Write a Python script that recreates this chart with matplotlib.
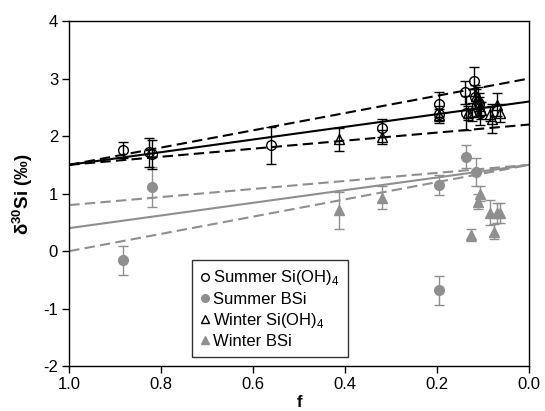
import numpy as np
import matplotlib
matplotlib.use("Agg")
import matplotlib.pyplot as plt

plt.rcParams['font.family'] = ['Liberation Sans', 'DejaVu Sans']
plt.rcParams['mathtext.fontset'] = 'custom'
plt.rcParams['mathtext.rm'] = 'Liberation Sans'
plt.rcParams['mathtext.bf'] = 'Liberation Sans:bold'
plt.rcParams['axes.unicode_minus'] = False

# Summer Si(OH)4 (open circles)
ss_f = [0.884, 0.826, 0.820, 0.561, 0.320, 0.195, 0.195, 0.140, 0.138, 0.120, 0.118, 0.112, 0.110, 0.108]
ss_v = [1.76, 1.72, 1.68, 1.84, 2.14, 2.55, 2.38, 2.76, 2.40, 2.95, 2.68, 2.60, 2.55, 2.40]
ss_e = [0.14, 0.25, 0.25, 0.32, 0.15, 0.22, 0.15, 0.20, 0.30, 0.25, 0.20, 0.25, 0.20, 0.20]

# Summer BSi (grey circles)
sb_f = [0.884, 0.820, 0.195, 0.195, 0.138, 0.115]
sb_v = [-0.16, 1.12, 1.15, -0.68, 1.64, 1.37]
sb_e = [0.25, 0.35, 0.18, 0.25, 0.20, 0.24]

# Winter Si(OH)4 (open triangles)
ws_f = [0.413, 0.320, 0.195, 0.132, 0.125, 0.115, 0.110, 0.105, 0.085, 0.080, 0.070, 0.063]
ws_v = [1.94, 1.98, 2.37, 2.40, 2.42, 2.70, 2.55, 2.45, 2.38, 2.30, 2.54, 2.40]
ws_e = [0.20, 0.12, 0.10, 0.12, 0.15, 0.12, 0.12, 0.15, 0.12, 0.25, 0.20, 0.15]

# Winter BSi (grey triangles)
wb_f = [0.413, 0.320, 0.127, 0.112, 0.108, 0.085, 0.076, 0.070, 0.064]
wb_v = [0.71, 0.93, 0.28, 0.86, 1.00, 0.67, 0.34, 0.66, 0.66]
wb_e = [0.32, 0.20, 0.10, 0.13, 0.13, 0.21, 0.13, 0.17, 0.17]

# model lines (f = 1 -> f = 0)
line_f = [1.0, 0.0]
si_fit = [1.5, 2.6]
si_hi = [1.5, 3.0]
si_lo = [1.5, 2.2]
bsi_fit = [0.4, 1.5]
bsi_hi = [0.8, 1.5]
bsi_lo = [0.0, 1.5]

grey = '#8f8f8f'
dash = (0, (5, 2.5))

fig = plt.figure(figsize=(5.45, 4.11), dpi=100)
ax = fig.add_axes([0.127, 0.109, 0.844, 0.840])

ax.plot(line_f, si_fit, color='black', lw=1.5, zorder=1)
ax.plot(line_f, si_hi, color='black', lw=1.5, ls=dash, zorder=1)
ax.plot(line_f, si_lo, color='black', lw=1.5, ls=dash, zorder=1)
ax.plot(line_f, bsi_fit, color=grey, lw=1.5, zorder=1)
ax.plot(line_f, bsi_hi, color=grey, lw=1.5, ls=dash, zorder=1)
ax.plot(line_f, bsi_lo, color=grey, lw=1.5, ls=dash, zorder=1)

eb = dict(capsize=3.5, elinewidth=1, capthick=1, ls='none', markersize=7)
ax.errorbar(sb_f, sb_v, yerr=sb_e, fmt='o', color=grey, ecolor=grey, mec=grey, mfc=grey, zorder=2, **eb)
ax.errorbar(wb_f, wb_v, yerr=wb_e, fmt='^', color=grey, ecolor=grey, mec=grey, mfc=grey, zorder=2, **eb)
ax.errorbar(ss_f, ss_v, yerr=ss_e, fmt='o', color='black', ecolor='black', mec='black', mfc='none', zorder=3, **eb)
ax.errorbar(ws_f, ws_v, yerr=ws_e, fmt='^', color='black', ecolor='black', mec='black', mfc='none', zorder=3, **eb)

ax.set_xlim(1.0, 0.0)
ax.set_ylim(-2, 4)
ax.set_xticks([1.0, 0.8, 0.6, 0.4, 0.2, 0.0])
ax.set_xticklabels(['1.0', '0.8', '0.6', '0.4', '0.2', '0.0'])
ax.set_yticks([-2, -1, 0, 1, 2, 3, 4])
ax.tick_params(direction='out', length=5, width=1, labelsize=12, pad=3)
for s in ax.spines.values():
    s.set_linewidth(1)

ax.set_xlabel('f', fontsize=12, fontweight='bold', labelpad=2)
ax.set_ylabel(r'δ$^{\mathbf{30}}$Si (‰)', fontsize=13.5, fontweight='bold', labelpad=6)

h = [
    plt.Line2D([], [], marker='o', ls='none', mec='black', mfc='none', ms=5.5),
    plt.Line2D([], [], marker='o', ls='none', mec=grey, mfc=grey, ms=5.5),
    plt.Line2D([], [], marker='^', ls='none', mec='black', mfc='none', ms=5.5),
    plt.Line2D([], [], marker='^', ls='none', mec=grey, mfc=grey, ms=5.5),
]
labels = ['Summer Si(OH)$_4$', 'Summer BSi', 'Winter Si(OH)$_4$', 'Winter BSi']
leg = ax.legend(h, labels, loc='lower left', bbox_to_anchor=(0.267, 0.026), fontsize=12,
                frameon=True, fancybox=False, edgecolor='black', handlelength=0.5,
                handletextpad=0.25, labelspacing=0.25, borderpad=0.5, borderaxespad=0)
leg.get_frame().set_linewidth(1)

fig.savefig('out.png', dpi=100)
